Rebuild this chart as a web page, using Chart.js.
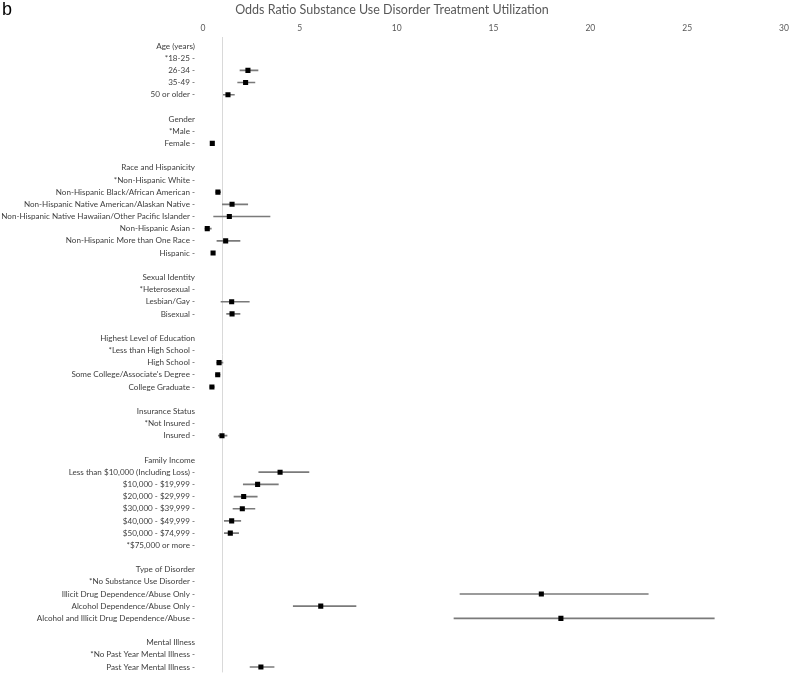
<!DOCTYPE html>
<html>
<head>
<meta charset="utf-8">
<script src="https://cdn.jsdelivr.net/npm/chart.js@4.4.1/dist/chart.umd.min.js"></script>
<style>
  html, body { margin: 0; padding: 0; background: #ffffff; }
  #wrap { position: relative; width: 790px; height: 676px; }
  #panel { position: absolute; left: 2px; top: -1px; font-family: "Liberation Sans", Arial, sans-serif; font-size: 18px; color: #000; }
</style>
</head>
<body>
<div id="wrap">
  <canvas id="c" width="790" height="676"></canvas>
  <div id="panel">b</div>
</div>
<script>
const titleText = "Odds Ratio Substance Use Disorder Treatment Utilization";

const rowLabels = [
  "Age (years)", "*18-25 -", "26-34 -", "35-49 -", "50 or older -", "",
  "Gender", "*Male -", "Female -", "",
  "Race and Hispanicity", "*Non-Hispanic White -", "Non-Hispanic Black/African American -",
  "Non-Hispanic Native American/Alaskan Native -", "Non-Hispanic Native Hawaiian/Other Pacific Islander -",
  "Non-Hispanic Asian -", "Non-Hispanic More than One Race -", "Hispanic -", "",
  "Sexual Identity", "*Heterosexual -", "Lesbian/Gay -", "Bisexual -", "",
  "Highest Level of Education", "*Less than High School -", "High School -",
  "Some College/Associate's Degree -", "College Graduate -", "",
  "Insurance Status", "*Not Insured -", "Insured -", "",
  "Family Income", "Less than $10,000 (Including Loss) -", "$10,000 - $19,999 -",
  "$20,000 - $29,999 -", "$30,000 - $39,999 -", "$40,000 - $49,999 -", "$50,000 - $74,999 -",
  "*$75,000 or more -", "",
  "Type of Disorder", "*No Substance Use Disorder -", "Illicit Drug Dependence/Abuse Only -",
  "Alcohol Dependence/Abuse Only -", "Alcohol and Illicit Drug Dependence/Abuse -", "",
  "Mental Illness", "*No Past Year Mental Illness -", "Past Year Mental Illness -"
];

const oddsRatio = [
  null, null, 2.32, 2.20, 1.29, null,
  null, null, 0.48, null,
  null, null, 0.77, 1.50, 1.36, 0.22, 1.17, 0.52, null,
  null, null, 1.48, 1.50, null,
  null, null, 0.83, 0.76, 0.46, null,
  null, null, 0.98, null,
  null, 3.98, 2.82, 2.10, 2.03, 1.48, 1.41, null, null,
  null, null, 17.47, 6.08, 18.48, null,
  null, null, 2.99
];

const ciLow = [
  null, null, 1.91, 1.79, 1.05, null,
  null, null, 0.41, null,
  null, null, 0.66, 1.00, 0.55, 0.10, 0.72, 0.44, null,
  null, null, 0.93, 1.22, null,
  null, null, 0.71, 0.64, 0.36, null,
  null, null, 0.79, null,
  null, 2.88, 2.08, 1.60, 1.55, 1.10, 1.10, null, null,
  null, null, 13.27, 4.66, 12.96, null,
  null, null, 2.43
];

const ciHigh = [
  null, null, 2.84, 2.68, 1.62, null,
  null, null, 0.54, null,
  null, null, 0.91, 2.31, 3.46, 0.43, 1.91, 0.59, null,
  null, null, 2.39, 1.91, null,
  null, null, 1.03, 0.88, 0.58, null,
  null, null, 1.24, null,
  null, 5.47, 3.89, 2.80, 2.68, 1.95, 1.84, null, null,
  null, null, 22.99, 7.90, 26.40, null,
  null, null, 3.67
];

const xTickValues = [0, 5, 10, 15, 20, 25, 30];
const referenceOR = 1;

const ciData = [];
const pointData = [];
rowLabels.forEach((lab, i) => {
  if (oddsRatio[i] !== null) {
    ciData.push({ y: i, x: [ciLow[i], ciHigh[i]] });
    pointData.push({ y: i, x: oddsRatio[i] });
  }
});

const FONT = "Lato, 'Noto Sans', sans-serif";

function zeroPadding(scale) {
  scale.paddingTop = 0;
  scale.paddingBottom = 0;
  scale.paddingLeft = 0;
  scale.paddingRight = 0;
}

new Chart(document.getElementById('c'), {
  type: 'bar',
  data: {
    datasets: [
      {
        type: 'bar',
        data: ciData,
        backgroundColor: '#7a7a7a',
        borderWidth: 0,
        barThickness: 1,
        order: 2
      },
      {
        type: 'scatter',
        data: pointData,
        pointStyle: 'rect',
        pointRadius: 3.6,
        pointHoverRadius: 3.6,
        backgroundColor: '#000000',
        borderColor: '#000000',
        borderWidth: 0,
        order: 1
      }
    ]
  },
  options: {
    indexAxis: 'y',
    responsive: false,
    animation: false,
    events: [],
    layout: { padding: { left: 0, right: 6, top: 0, bottom: 0 } },
    plugins: {
      legend: { display: false },
      tooltip: { enabled: false },
      title: {
        display: true,
        text: titleText,
        color: '#595959',
        font: { family: FONT, size: 12.5, weight: 'normal', lineHeight: 1.2 },
        padding: { top: 2, bottom: 4 }
      }
    },
    scales: {
      x: {
        type: 'linear',
        position: 'top',
        min: 0,
        max: 30,
        offset: false,
        border: { display: false },
        afterBuildTicks: (scale) => {
          const vals = xTickValues.concat([referenceOR]).sort((a, b) => a - b);
          scale.ticks = vals.map(v => ({ value: v }));
        },
        afterFit: (scale) => { scale.height = 16; zeroPadding(scale); },
        grid: {
          offset: false,
          drawTicks: false,
          lineWidth: 1,
          color: (ctx) => (ctx.tick && ctx.tick.value === referenceOR) ? '#d9d9d9' : 'rgba(0,0,0,0)'
        },
        ticks: {
          autoSkip: false,
          maxRotation: 0,
          padding: 4,
          color: '#595959',
          font: { family: FONT, size: 8.5 },
          callback: (v) => xTickValues.includes(v) ? String(v) : ''
        }
      },
      y: {
        type: 'linear',
        reverse: true,
        offset: false,
        min: -0.739,
        max: 51.44,
        border: { display: false },
        grid: { display: false, drawTicks: false, offset: false },
        afterBuildTicks: (scale) => {
          scale.ticks = rowLabels.map((_, i) => ({ value: i }));
        },
        afterFit: (scale) => { scale.width = 203; zeroPadding(scale); },
        ticks: {
          autoSkip: false,
          padding: 8,
          color: '#404040',
          font: { family: FONT, size: 8.1 },
          callback: (v) => rowLabels[v] !== undefined ? rowLabels[v] : ''
        }
      }
    }
  }
});
</script>
</body>
</html>
